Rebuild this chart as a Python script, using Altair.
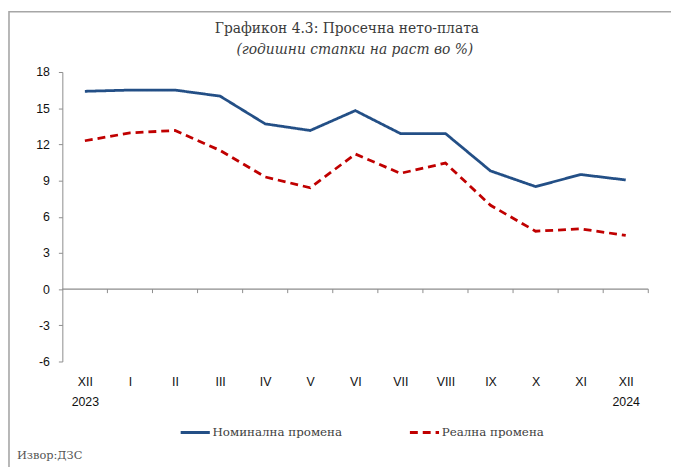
import altair as alt
import pandas as pd

months = ["XII 2023", "I", "II", "III", "IV", "V", "VI", "VII", "VIII", "IX", "X", "XI", "XII 2024"]
nominal = [16.4, 16.5, 16.5, 16.0, 13.7, 13.15, 14.8, 12.9, 12.9, 9.8, 8.5, 9.5, 9.05]
real = [12.3, 12.95, 13.15, 11.5, 9.3, 8.4, 11.2, 9.6, 10.45, 6.95, 4.8, 5.0, 4.45]
series_names = ["Номинална промена", "Реална промена"]
y_ticks = [-6, -3, 0, 3, 6, 9, 12, 15, 18]
boundaries = list(range(1, 14))

title_text = "Графикон 4.3: Просечна нето-плата"
subtitle_text = "(годишни стапки на раст во %)"
source_text = "Извор:ДЗС"

rows = []
for i, m in enumerate(months):
    rows.append({"month": m, "series": series_names[0], "value": nominal[i]})
    rows.append({"month": m, "series": series_names[1], "value": real[i]})
df = pd.DataFrame(rows)

W, H = 593, 293
SERIF = "DejaVu Serif"
SANS = "Liberation Sans"

yscale = alt.Scale(domain=[-6, 18], nice=False, zero=False)
y_axis = alt.Axis(title=None, values=y_ticks, grid=False, labelOverlap=False,
                  labelExpr="'' + datum.value",
                  domainColor="#8c8c8c", tickColor="#8c8c8c", tickSize=4,
                  labelFont=SANS, labelFontSize=12.5, labelColor="#111",
                  labelPadding=9)

legend_cfg = dict(title=None, orient="none", direction="horizontal",
                  legendX=118, legendY=348,
                  symbolType="stroke", symbolSize=870,
                  symbolStrokeWidth=3, labelOffset=1,
                  columnPadding=61,
                  labelFont=SERIF, labelFontSize=12, labelColor="#404040")

lines = alt.Chart(df).mark_line(strokeWidth=2.8).encode(
    x=alt.X("month:O", sort=months, scale=alt.Scale(type="point", padding=0.5),
            axis=alt.Axis(title=None, labelAngle=0, ticks=False, domain=False,
                          labelFont=SANS, labelFontSize=12.5, labelColor="#111",
                          labelPadding=14, labelBaseline="top", labelLineHeight=21,
                          labelExpr="split(datum.label, ' ')")),
    y=alt.Y("value:Q", scale=yscale, axis=y_axis),
    color=alt.Color("series:N", sort=series_names,
                    scale=alt.Scale(domain=series_names, range=["#234f86", "#c00000"]),
                    legend=alt.Legend(**legend_cfg)),
    strokeDash=alt.StrokeDash("series:N", sort=series_names,
                              scale=alt.Scale(domain=series_names, range=[[1, 0], [8, 5]]),
                              legend=alt.Legend(**legend_cfg)),
)

zero = alt.Chart(pd.DataFrame({"v": [0]})).mark_rule(color="#8c8c8c", strokeWidth=1.2).encode(
    y=alt.Y("v:Q", scale=yscale, axis=y_axis)
)

ticks = alt.Chart(pd.DataFrame({"b": boundaries})).mark_rule(color="#8c8c8c", strokeWidth=1).encode(
    x=alt.X("b:Q", scale=alt.Scale(domain=[0, 13], nice=False), axis=None),
    y=alt.YDatum(0, scale=yscale, axis=y_axis),
    y2=alt.datum(-0.33),
)

title = alt.Chart(pd.DataFrame({"t": [title_text]})).mark_text(
    font=SERIF, fontSize=14, color="#3a3a3a", align="center", baseline="middle"
).encode(text="t:N", x=alt.value(288), y=alt.value(-43))

subtitle = alt.Chart(pd.DataFrame({"t": [subtitle_text]})).mark_text(
    font=SERIF, fontSize=14, fontStyle="italic", color="#3a3a3a", align="center", baseline="middle"
).encode(text="t:N", x=alt.value(296), y=alt.value(-22))

source = alt.Chart(pd.DataFrame({"t": [source_text]})).mark_text(
    font=SERIF, fontSize=11.5, color="#555", align="left", baseline="middle"
).encode(text="t:N", x=alt.value(-46), y=alt.value(389))

# outer frame: only its left and top edges fall inside the page
frame = alt.Chart(pd.DataFrame({"v": [0]})).mark_rect(
    fill="transparent", stroke="#a6a6a6", strokeWidth=1.6
).encode(
    x=alt.value(-54), x2=alt.value(700), y=alt.value(-61), y2=alt.value(500)
)

chart = alt.layer(
    frame, lines, zero, ticks, title, subtitle, source
).resolve_scale(x="independent").properties(
    width=W, height=H,
    autosize=alt.AutoSizeParams(type="none"),
    padding={"left": 55, "top": 62, "right": 23, "bottom": 104},
).configure(background="white").configure_view(stroke=None)

chart.save("out.html", embed_options={"renderer": "svg", "actions": False})
